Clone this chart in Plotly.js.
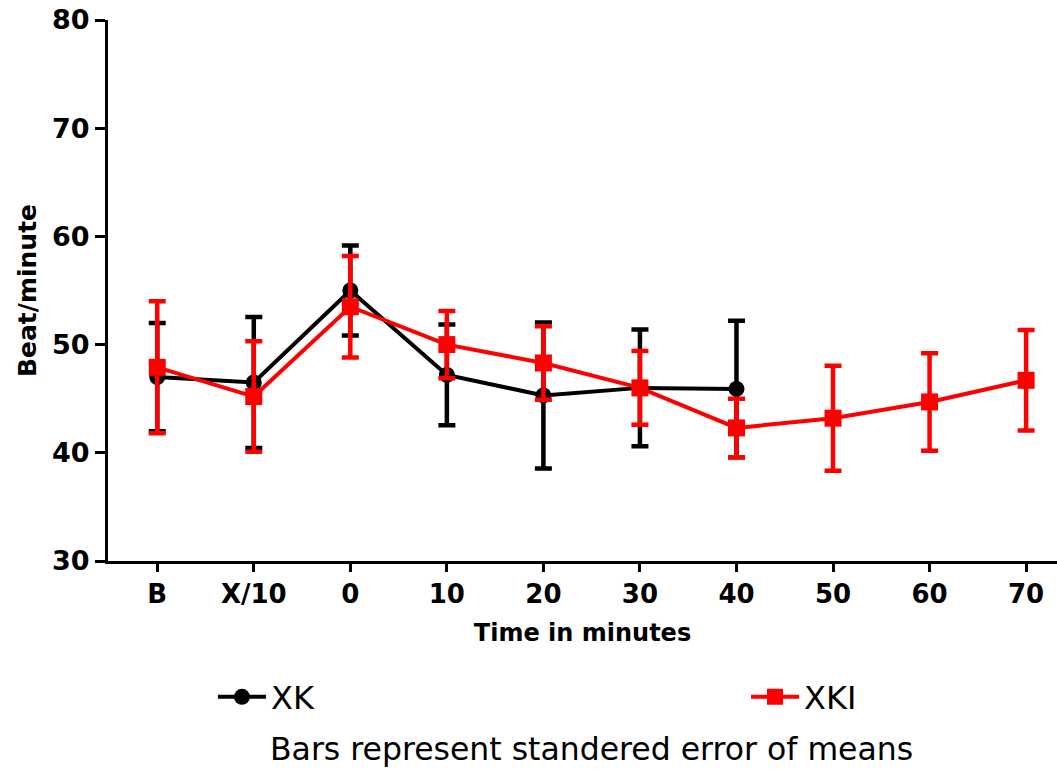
<!DOCTYPE html>
<html>
<head>
<meta charset="utf-8">
<script src="https://cdn.plot.ly/plotly-3.0.1.min.js"></script>
<style>html,body{margin:0;padding:0;background:#fff;}#chart{width:1057px;height:769px;}</style>
</head>
<body>
<div id="chart"></div>
<script>
const categories = ["B", "X/10", "0", "10", "20", "30", "40", "50", "60", "70"];
const xkCategories = ["B", "X/10", "0", "10", "20", "30", "40"];
const xkMeans = [47.0, 46.5, 55.0, 47.2, 45.3, 46.0, 45.9];
const xkSem = [5.0, 6.05, 4.15, 4.65, 6.75, 5.4, 6.3];
const xkiMeans = [47.9, 45.2, 53.5, 50.0, 48.3, 46.0, 42.3, 43.2, 44.7, 46.7];
const xkiSem = [6.1, 5.1, 4.7, 3.1, 3.4, 3.4, 2.7, 4.85, 4.5, 4.65];
const yTicks = [30, 40, 50, 60, 70, 80];

const font = "DejaVu Sans, Verdana, sans-serif";

const traces = [
  {
    name: "XK", legend: "legend", x: xkCategories, y: xkMeans, type: "scatter", mode: "lines+markers",
    line: {color: "#000000", width: 4},
    marker: {symbol: "circle", size: 16, color: "#000000"},
    error_y: {type: "data", array: xkSem, visible: true, color: "#000000", thickness: 4.5, width: 8.5}
  },
  {
    name: "XKI", legend: "legend2", x: categories, y: xkiMeans, type: "scatter", mode: "lines+markers",
    line: {color: "#ff0000", width: 4},
    marker: {symbol: "square", size: 17, color: "#ff0000"},
    error_y: {type: "data", array: xkiSem, visible: true, color: "#ff0000", thickness: 4.5, width: 8.5}
  }
];

const legendCommon = {
  orientation: "h", yanchor: "middle", xanchor: "left", y: -0.2514,
  itemwidth: 48, font: {family: font, size: 32, color: "#000"}, bgcolor: "rgba(0,0,0,0)"
};

const layout = {
  width: 1057, height: 769,
  margin: {l: 108, r: 0, t: 20, b: 208},
  paper_bgcolor: "#ffffff", plot_bgcolor: "#ffffff",
  font: {family: font, color: "#000000"},
  showlegend: true,
  xaxis: {
    type: "category", categoryorder: "array", categoryarray: categories,
    range: [-0.51, 9.32],
    showline: true, linecolor: "#000", linewidth: 3, mirror: false,
    showgrid: false, zeroline: false,
    ticks: "outside", ticklen: 8, tickwidth: 3, tickcolor: "#000",
    tickfont: {family: font, size: 26, weight: "bold", color: "#000"},
    title: {text: "Time in minutes", font: {family: font, size: 24, weight: "bold", color: "#000"}, standoff: 16}
  },
  yaxis: {
    range: [30, 80], tickvals: yTicks,
    showline: true, linecolor: "#000", linewidth: 3,
    showgrid: false, zeroline: false,
    ticks: "outside", ticklen: 10, tickwidth: 3, tickcolor: "#000",
    tickfont: {family: font, size: 27, weight: "bold", color: "#000"},
    title: {text: "Beat/minute", font: {family: font, size: 25, weight: "bold", color: "#000"}, standoff: 9}
  },
  legend: Object.assign({}, legendCommon, {x: 0.1106}),
  legend2: Object.assign({}, legendCommon, {x: 0.6723}),
  annotations: [
    {text: "Bars represent standered error of means", xref: "paper", yref: "paper",
     x: 0.5095, y: -0.3475, xanchor: "center", yanchor: "middle", showarrow: false,
     font: {family: font, size: 31.5, color: "#000"}}
  ]
};

Plotly.newPlot("chart", traces, layout, {displayModeBar: false, staticPlot: true});
</script>
</body>
</html>
